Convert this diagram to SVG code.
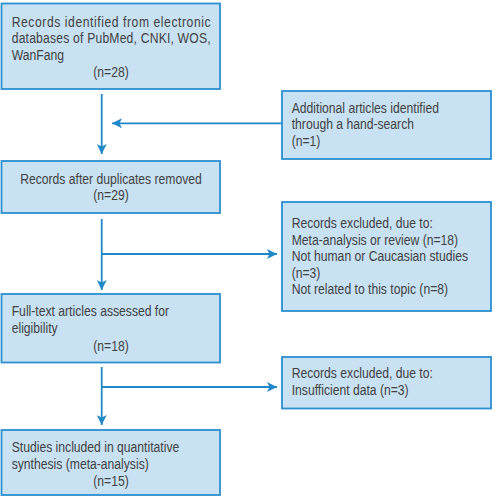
<svg xmlns="http://www.w3.org/2000/svg" width="495" height="497" viewBox="0 0 495 497">
<style>
.box{fill:#c8e1f3;stroke:#2b8fd0;stroke-width:1.8}
.t{font-family:"Liberation Sans",Arial,sans-serif;font-size:14.3px;fill:#424242}
.c{text-anchor:middle}
.ln{stroke:#1f88c8;stroke-width:1.8;fill:none}
</style>
<defs>
<marker id="ah" viewBox="0 0 10 10" refX="10" refY="5" markerWidth="11" markerHeight="10" markerUnits="userSpaceOnUse" orient="auto">
<path d="M0,0 L10,5 L0,10 L2.5,5 Z" fill="#1f88c8"/>
</marker>
</defs>
<rect width="495" height="497" fill="#fff"/>
<g id="connectors">
<path class="ln" d="M101.7,94 V154" marker-end="url(#ah)"/>
<path class="ln" d="M281,123.3 H112" marker-end="url(#ah)"/>
<path class="ln" d="M101.7,219 V290" marker-end="url(#ah)"/>
<path class="ln" d="M101.7,254 H277" marker-end="url(#ah)"/>
<path class="ln" d="M101.7,367 V425" marker-end="url(#ah)"/>
<path class="ln" d="M101.7,387 H277" marker-end="url(#ah)"/>
</g>
<g id="n1">
<rect class="box" x="1.5" y="3.5" width="218.5" height="85.5"/>
<g transform="matrix(0.85 0 0 1 11.7 0)">
<text class="t" x="0" y="27" textLength="234" lengthAdjust="spacing">Records identified from electronic</text>
<text class="t" x="0" y="43.5" textLength="234" lengthAdjust="spacing">databases of PubMed, CNKI, WOS,</text>
<text class="t" x="0" y="60">WanFang</text>
<text class="t c" x="116.8" y="77.5">(n=28)</text>
</g>
</g>
<g id="n2">
<rect class="box" x="282" y="91" width="209" height="68"/>
<g transform="matrix(0.85 0 0 1 291.7 0)">
<text class="t" x="0" y="113">Additional articles identified</text>
<text class="t" x="0" y="129.5">through a hand-search</text>
<text class="t" x="0" y="146">(n=1)</text>
</g>
</g>
<g id="n3">
<rect class="box" x="1.5" y="161" width="218.5" height="52"/>
<g transform="matrix(0.85 0 0 1 111 0)">
<text class="t c" x="0" y="184">Records after duplicates removed</text>
<text class="t c" x="0" y="200.5">(n=29)</text>
</g>
</g>
<g id="n4">
<rect class="box" x="282" y="202" width="209" height="109"/>
<g transform="matrix(0.85 0 0 1 291.7 0)">
<text class="t" x="0" y="228.5">Records excluded, due to:</text>
<text class="t" x="0" y="245">Meta-analysis or review (n=18)</text>
<text class="t" x="0" y="261.5">Not human or Caucasian studies</text>
<text class="t" x="0" y="278">(n=3)</text>
<text class="t" x="0" y="294.5">Not related to this topic (n=8)</text>
</g>
</g>
<g id="n5">
<rect class="box" x="1.5" y="294" width="218.5" height="68.5"/>
<g transform="matrix(0.85 0 0 1 11.7 0)">
<text class="t" x="0" y="316.5">Full-text articles assessed for</text>
<text class="t" x="0" y="333">eligibility</text>
<text class="t c" x="116.8" y="351">(n=18)</text>
</g>
</g>
<g id="n6">
<rect class="box" x="282" y="357" width="209" height="51.5"/>
<g transform="matrix(0.85 0 0 1 291.7 0)">
<text class="t" x="0" y="378.5">Records excluded, due to:</text>
<text class="t" x="0" y="395">Insufficient data (n=3)</text>
</g>
</g>
<g id="n7">
<rect class="box" x="1.5" y="430" width="218.5" height="65"/>
<g transform="matrix(0.85 0 0 1 11.7 0)">
<text class="t" x="0" y="452.5">Studies included in quantitative</text>
<text class="t" x="0" y="469">synthesis (meta-analysis)</text>
<text class="t c" x="116.8" y="486">(n=15)</text>
</g>
</g>
</svg>
